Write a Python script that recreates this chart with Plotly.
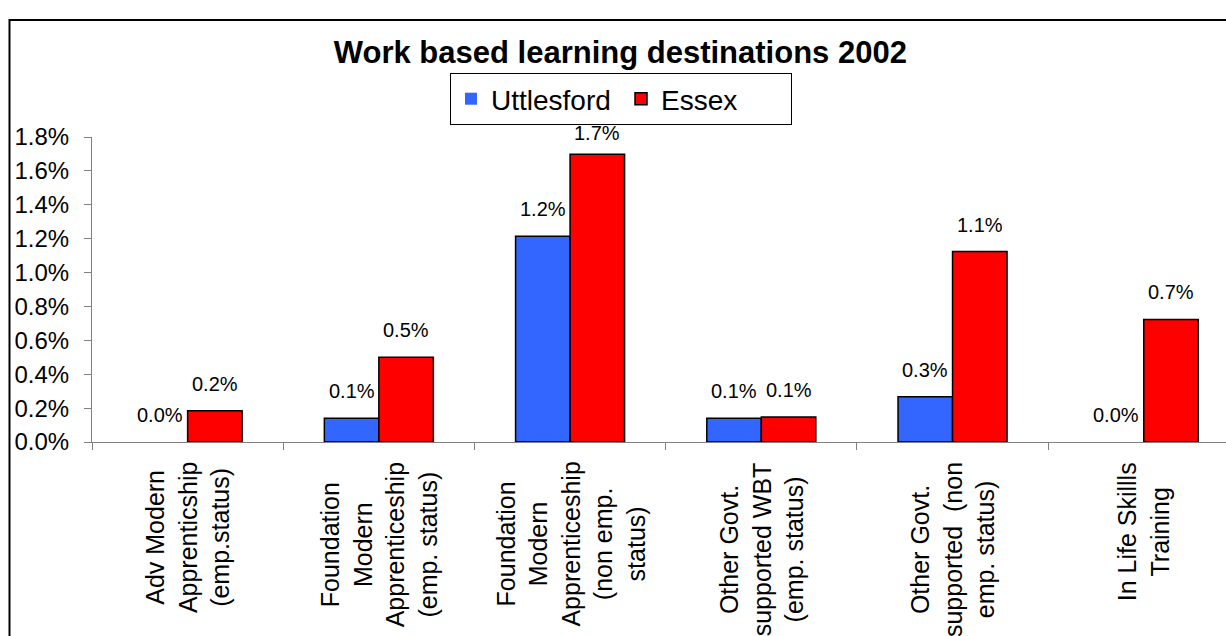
import plotly.graph_objects as go

# Destination categories (line breaks as shown on the axis)
categories = [
    "Adv Modern<br>Apprenticship<br>(emp.status)",
    "Foundation<br>Modern<br>Apprenticeship<br>(emp. status)",
    "Foundation<br>Modern<br>Apprenticeship<br>(non emp.<br>status)",
    "Other Govt.<br>supported WBT<br>(emp. status)",
    "Other Govt.<br>supported  (non<br>emp. status)",
    "In Life Skillls<br>Training",
]
cat_keys = ["c1", "c2", "c3", "c4", "c5", "c6"]

# Share of leavers going to each destination (fractions)
uttlesford = [0.0, 0.0014, 0.01215, 0.0014, 0.00267, 0.0]
essex = [0.00185, 0.0050, 0.01698, 0.00148, 0.01124, 0.00723]

y_ticks = [0.000, 0.002, 0.004, 0.006, 0.008, 0.010, 0.012, 0.014, 0.016, 0.018]

FONT = "Arial, Liberation Sans, sans-serif"
BLUE = "#3366FF"
RED = "#FF0000"


def outline_widths(values):
    # no outline on empty bars so nothing is drawn over the axis
    return [1.5 if v > 0 else 0 for v in values]


fig = go.Figure()
fig.add_trace(go.Bar(
    name="Uttlesford", x=cat_keys, y=uttlesford,
    marker=dict(color=BLUE, line=dict(color="black", width=outline_widths(uttlesford))),
))
fig.add_trace(go.Bar(
    name="Essex", x=cat_keys, y=essex,
    marker=dict(color=RED, line=dict(color="black", width=outline_widths(essex))),
))

Y_MAX = 0.018
annotations = []
# value labels above each bar; the tallest is tucked in below the legend
for vals, shift in ((uttlesford, -27.3), (essex, 27.3)):
    for key, v in zip(cat_keys, vals):
        annotations.append(dict(
            x=key, y=v, xref="x", yref="y", text=f"{v:.1%}",
            showarrow=False, xshift=shift,
            yshift=14 if v < 0.9 * Y_MAX else 8,
            yanchor="bottom", xanchor="center",
            font=dict(family=FONT, size=20, color="black"),
        ))
# rotated category labels under the axis
for key, label in zip(cat_keys, categories):
    annotations.append(dict(
        x=key, y=0, xref="x", yref="paper", text=label,
        showarrow=False, textangle=-90, align="center",
        xanchor="center", yanchor="top", yshift=-18,
        font=dict(family=FONT, size=25, color="black"),
    ))

PLOT_W = 1226 - 92
PLOT_H = 636 - 137 - 194

fig.update_layout(
    width=1226, height=636,
    margin=dict(l=92, r=0, t=137, b=194),
    paper_bgcolor="white", plot_bgcolor="white",
    barmode="group", bargap=0.43, bargroupgap=0,
    font=dict(family=FONT, color="black"),
    title=dict(
        text="<b>Work based learning destinations 2002</b>",
        x=0.506, xanchor="center", xref="container",
        y=1 - 52 / 636, yanchor="middle", yref="container",
        font=dict(family=FONT, size=31, color="black"),
    ),
    legend=dict(
        orientation="h", xref="paper", yref="paper",
        x=(621 - 92) / PLOT_W, xanchor="center",
        y=1 + (137 - 73) / PLOT_H, yanchor="top",
        bordercolor="black", borderwidth=1, bgcolor="white",
        font=dict(family=FONT, size=28, color="black"),
        itemwidth=30, tracegroupgap=0, entrywidth=125,
    ),
    xaxis=dict(
        type="category", range=[-0.5, 5.43],
        showticklabels=False, ticks="outside", tickson="boundaries",
        ticklen=7, tickcolor="#808080", tickwidth=1,
        showline=True, linecolor="#808080", linewidth=1,
        showgrid=False, zeroline=False, fixedrange=True,
    ),
    yaxis=dict(
        range=[0, Y_MAX], tickvals=y_ticks, tickformat=".1%",
        ticks="outside", ticklen=7, tickcolor="#808080", tickwidth=1,
        showline=True, linecolor="#808080", linewidth=1,
        showgrid=False, zeroline=False,
        tickfont=dict(family=FONT, size=24, color="black"),
        ticklabelstandoff=10,
    ),
    annotations=annotations,
    shapes=[dict(
        type="rect", xref="paper", yref="paper",
        x0=(9.5 - 92) / PLOT_W, x1=1.05,
        y0=-0.8, y1=(442 - 20) / PLOT_H,
        line=dict(color="black", width=2), fillcolor="rgba(0,0,0,0)",
        layer="above",
    )],
)

fig.write_html("out.html")
